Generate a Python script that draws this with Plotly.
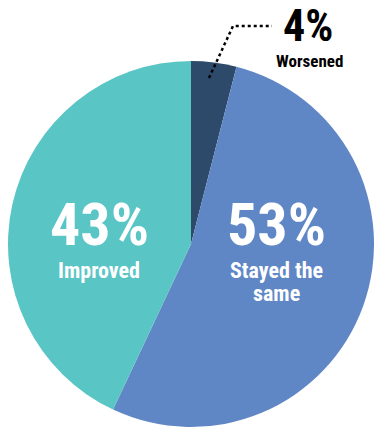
import plotly.graph_objects as go

# Survey outcome shares
labels = ["Worsened", "Stayed the same", "Improved"]
values = [4, 53, 43]
colors = ["#2D4A6B", "#6087C5", "#5AC5C5"]

W, H = 374, 429
FONT = "Liberation Sans Narrow, Arial Narrow, Roboto Condensed, sans-serif"


def px(x):
    return x / W


def py(y):
    return 1 - y / H


fig = go.Figure(
    go.Pie(
        labels=labels,
        values=values,
        sort=False,
        direction="clockwise",
        rotation=0,
        marker=dict(colors=colors, line=dict(width=0)),
        textinfo="none",
        hoverinfo="label+percent",
        showlegend=False,
        domain=dict(x=[px(8), 1], y=[py(427), py(61)]),
    )
)

pct = {lab: f"{v}%" for lab, v in zip(labels, values)}

annotations = [
    # Improved
    dict(x=px(99), y=py(224), text=f"<b>{pct['Improved']}</b>",
         font=dict(size=60, color="white", family=FONT)),
    dict(x=px(99), y=py(270), text="<b>Improved</b>",
         font=dict(size=22, color="white", family=FONT)),
    # Stayed the same
    dict(x=px(276), y=py(224), text=f"<b>{pct['Stayed the same']}</b>",
         font=dict(size=60, color="white", family=FONT)),
    dict(x=px(276), y=py(270), text="<b>Stayed the</b>",
         font=dict(size=22, color="white", family=FONT)),
    dict(x=px(276), y=py(293), text="<b>same</b>",
         font=dict(size=22, color="white", family=FONT)),
    # Worsened (callout)
    dict(x=px(308), y=py(26), text=f"<b>{pct['Worsened']}</b>",
         font=dict(size=44, color="black", family=FONT)),
    dict(x=px(309), y=py(61), text="<b>Worsened</b>",
         font=dict(size=17, color="black", family=FONT)),
]
for a in annotations:
    a.update(xref="paper", yref="paper", showarrow=False,
             xanchor="center", yanchor="middle")

fig.update_layout(
    width=W,
    height=H,
    margin=dict(l=0, r=0, t=0, b=0),
    paper_bgcolor="white",
    plot_bgcolor="white",
    annotations=annotations,
    shapes=[
        dict(type="path", xref="paper", yref="paper",
             path=f"M {px(209)} {py(78)} L {px(233)} {py(26)} L {px(272)} {py(26)}",
             line=dict(color="black", width=2.5, dash="dot")),
    ],
)

fig.write_html("out.html")
